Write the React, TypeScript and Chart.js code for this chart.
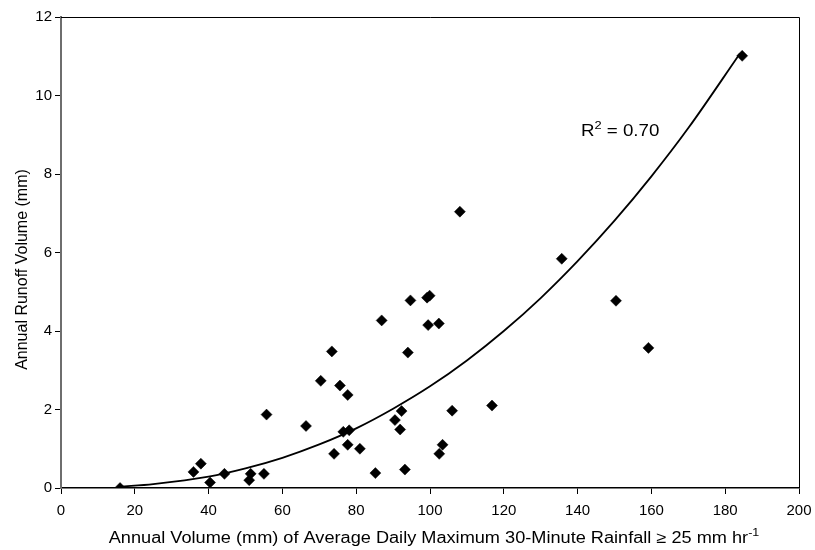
import React, { useEffect, useRef } from "react";
import { Chart, registerables } from "chart.js";

Chart.register(...registerables);

const rainfallVolume: number[] = [
  16.0, 35.9, 37.9, 40.4, 44.3, 51.0, 51.4, 55.0, 55.7, 66.4,
  70.4, 73.4, 74.0, 75.6, 77.7, 76.5, 78.1, 77.7, 81.0, 85.2,
  86.9, 90.5, 91.9, 92.3, 93.2, 94.0, 94.7, 99.2, 99.9, 99.5,
  102.4, 102.5, 103.4, 106.0, 108.1, 116.8, 135.7, 150.4, 159.2, 184.6,
];
const runoffVolume: number[] = [
  0.0, 0.41, 0.62, 0.14, 0.36, 0.20, 0.36, 0.36, 1.87, 1.58,
  2.73, 3.48, 0.87, 2.61, 2.37, 1.43, 1.47, 1.10, 1.00, 0.38,
  4.27, 1.73, 1.49, 1.96, 0.47, 3.45, 4.78, 4.85, 4.90, 4.15,
  4.19, 0.87, 1.10, 1.97, 7.04, 2.10, 5.84, 4.77, 3.57, 11.01,
];

// Trend curve
const trendX: number[] = [16, 25, 40, 50, 60, 70, 80, 90, 100, 110, 120, 130, 140, 150, 160, 170, 184];
const trendY: number[] = [0.03, 0.1, 0.29, 0.5, 0.77, 1.11, 1.52, 2.02, 2.59, 3.25, 4.0, 4.84, 5.78, 6.81, 7.94, 9.17, 11.07];

const xTicksMin = 0;
const xTicksMax = 200;
const xStep = 20;
const yTicksMin = 0;
const yTicksMax = 12;
const yStep = 2;

const rSquaredLabel = "0.70";
const yTitle = "Annual Runoff Volume (mm)";
const xTitleMain = "Annual Volume (mm) of Average Daily Maximum 30-Minute Rainfall ≥ 25 mm hr";
const xTitleSup = "-1";

const FONT = "'Liberation Sans', Arial, Helvetica, sans-serif";
const STRETCH_TITLE = 1.135;
const STRETCH_R2 = 1.17;

export default function App() {
  const ref = useRef<HTMLCanvasElement | null>(null);

  useEffect(() => {
    document.body.style.margin = "0";
    const canvas = ref.current;
    if (!canvas) return;

    const decorations = {
      id: "decorations",
      afterDraw(chart: any) {
        const ctx = chart.ctx as CanvasRenderingContext2D;
        const a = chart.chartArea;
        ctx.save();
        // top and right frame
        ctx.strokeStyle = "#000";
        ctx.lineWidth = 1;
        ctx.beginPath();
        ctx.moveTo(a.left, a.top + 0.5);
        ctx.lineTo(a.right + 0.5, a.top + 0.5);
        ctx.lineTo(a.right + 0.5, a.bottom);
        ctx.stroke();

        ctx.fillStyle = "#000";
        ctx.textBaseline = "alphabetic";
        ctx.textAlign = "left";

        // R² annotation
        const xs = chart.scales.x;
        const ys = chart.scales.y;
        ctx.save();
        ctx.translate(xs.getPixelForValue(140.9), ys.getPixelForValue(8.96));
        ctx.scale(STRETCH_R2, 1);
        let rx = 0;
        ctx.font = `16px ${FONT}`;
        ctx.fillText("R", rx, 0);
        rx += ctx.measureText("R").width;
        ctx.font = `11px ${FONT}`;
        ctx.fillText("2", rx, -7);
        rx += ctx.measureText("2").width;
        ctx.font = `16px ${FONT}`;
        ctx.fillText(" = " + rSquaredLabel, rx, 0);
        ctx.restore();

        // x-axis title with superscript
        ctx.font = `16px ${FONT}`;
        const mainW = ctx.measureText(xTitleMain).width;
        ctx.font = `11px ${FONT}`;
        const supW = ctx.measureText(xTitleSup).width;
        const cx = (a.left + a.right) / 2 + 4;
        const startX = cx - ((mainW + supW) * STRETCH_TITLE) / 2;
        ctx.save();
        ctx.translate(startX, a.bottom + 55);
        ctx.scale(STRETCH_TITLE, 1);
        ctx.font = `16px ${FONT}`;
        ctx.fillText(xTitleMain, 0, 0);
        ctx.font = `11px ${FONT}`;
        ctx.fillText(xTitleSup, mainW, -7);
        ctx.restore();

        // y-axis title
        ctx.translate(27, (a.top + a.bottom) / 2 + 17);
        ctx.rotate(-Math.PI / 2);
        ctx.font = `16px ${FONT}`;
        ctx.textAlign = "center";
        ctx.fillText(yTitle, 0, 0);
        ctx.restore();
      },
    };

    const points = rainfallVolume.map((x, i) => ({ x, y: runoffVolume[i] }));
    const curve = trendX.map((x, i) => ({ x, y: trendY[i] }));

    const chart = new Chart(canvas, {
      type: "scatter",
      data: {
        datasets: [
          {
            label: "Observed",
            data: points,
            pointStyle: "rectRot",
            pointRadius: 5.5,
            pointHoverRadius: 5.5,
            backgroundColor: "#000",
            borderColor: "#000",
            borderWidth: 0.5,
            showLine: false,
            order: 2,
          },
          {
            label: "Power fit",
            data: curve,
            showLine: true,
            pointRadius: 0,
            borderColor: "#000",
            borderWidth: 1.8,
            cubicInterpolationMode: "monotone",
            fill: false,
            order: 1,
          } as any,
        ],
      },
      options: {
        responsive: false,
        animation: false,
        devicePixelRatio: 1,
        layout: { padding: { top: 17, right: 16, left: 0, bottom: 0 } },
        plugins: {
          legend: { display: false },
          tooltip: { enabled: false },
          title: { display: false },
        },
        scales: {
          x: {
            type: "linear",
            min: xTicksMin,
            max: xTicksMax,
            ticks: {
              stepSize: xStep,
              color: "#000",
              font: { family: FONT, size: 15 },
              padding: 8,
              maxRotation: 0,
            },
            grid: {
              display: true,
              drawOnChartArea: false,
              drawTicks: true,
              tickLength: 6,
              tickColor: "#000",
              color: "#000",
            },
            border: { display: true, color: "#000", width: 1.5 },
            afterFit(scale: any) {
              scale.height = 62;
              scale.paddingLeft = 0;
              scale.paddingRight = 0;
            },
          },
          y: {
            type: "linear",
            min: yTicksMin,
            max: yTicksMax,
            ticks: {
              stepSize: yStep,
              color: "#000",
              font: { family: FONT, size: 15 },
              padding: 3,
            },
            grid: {
              display: true,
              drawOnChartArea: false,
              drawTicks: true,
              tickLength: 6,
              tickColor: "#000",
              color: "#000",
            },
            border: { display: true, color: "#6e6e6e", width: 2 },
            afterFit(scale: any) {
              scale.width = 61;
              scale.paddingTop = 0;
              scale.paddingBottom = 0;
            },
          },
        },
      },
      plugins: [decorations],
    });

    return () => chart.destroy();
  }, []);

  return (
    <div style={{ width: 815, height: 550, background: "#fff" }}>
      <canvas ref={ref} width={815} height={550} style={{ display: "block" }} />
    </div>
  );
}
